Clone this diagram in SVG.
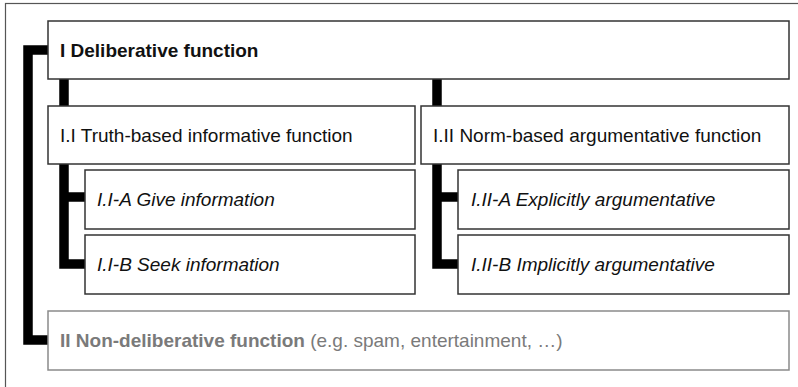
<svg xmlns="http://www.w3.org/2000/svg" width="798" height="387" viewBox="0 0 798 387">
<style>
.box{fill:#fff;stroke:#333;stroke-width:1.5}
.gbox{fill:#fff;stroke:#8a8a8a;stroke-width:1.5}
.t{font-family:"Liberation Sans",Arial,sans-serif;font-size:19px;fill:#111}
.b{font-weight:bold}
.i{font-style:italic}
.g{fill:#7a7a7a}
.c{fill:none;stroke:#000;stroke-width:9.5;stroke-linejoin:miter}
</style>
<rect x="0" y="0" width="798" height="387" fill="#fff"/>
<rect x="5.5" y="3.5" width="820" height="420" fill="none" stroke="#555" stroke-width="1.2"/>
<g id="connectors">
<path class="c" d="M48 50 H28 V340 H48"/>
<path class="c" d="M64 79 V264 H85 M64 197 H85"/>
<path class="c" d="M437 79 V264 H458 M437 197 H458"/>
</g>
<g id="n1">
<rect class="box" x="48" y="21" width="741" height="58"/>
<text class="t b" x="60" y="57">I Deliberative function</text>
</g>
<g id="n11">
<rect class="box" x="48" y="106" width="367" height="58"/>
<text class="t" x="60" y="142">I.I Truth-based informative function</text>
</g>
<g id="n12">
<rect class="box" x="421" y="106" width="368" height="58"/>
<text class="t" x="433" y="142">I.II Norm-based argumentative function</text>
</g>
<g id="n11a">
<rect class="box" x="85" y="170" width="330" height="59"/>
<text class="t i" x="97" y="206">I.I-A Give information</text>
</g>
<g id="n11b">
<rect class="box" x="85" y="235" width="330" height="59"/>
<text class="t i" x="97" y="271">I.I-B Seek information</text>
</g>
<g id="n12a">
<rect class="box" x="458" y="170" width="331" height="59"/>
<text class="t i" x="471" y="206">I.II-A Explicitly argumentative</text>
</g>
<g id="n12b">
<rect class="box" x="458" y="235" width="331" height="59"/>
<text class="t i" x="471" y="271">I.II-B Implicitly argumentative</text>
</g>
<g id="n2">
<rect class="gbox" x="48" y="311" width="741" height="59"/>
<text class="t g" x="60" y="347"><tspan class="b">II Non-deliberative function</tspan> (e.g. spam, entertainment, …)</text>
</g>
</svg>
